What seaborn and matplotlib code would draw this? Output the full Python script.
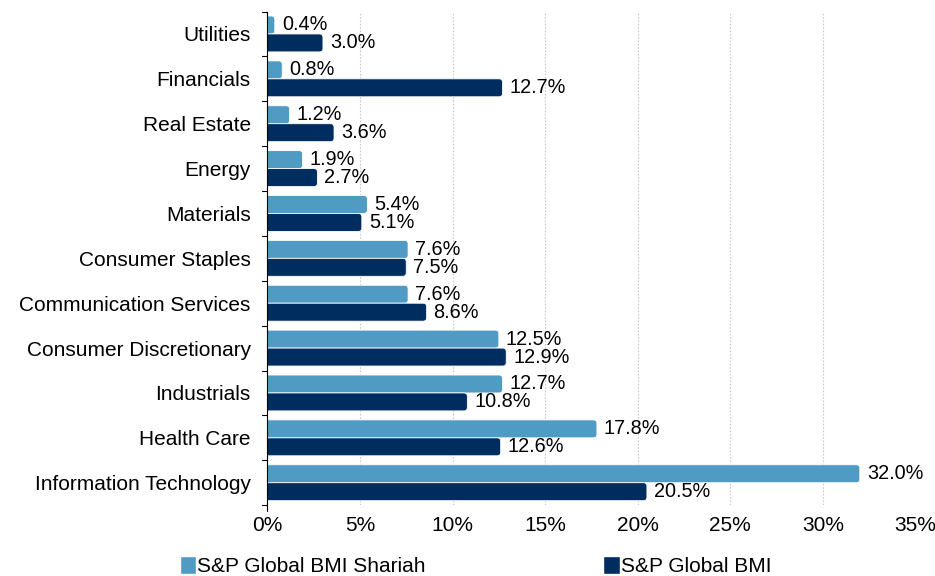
import pandas as pd
import numpy as np
import matplotlib.pyplot as plt
import seaborn as sns
from matplotlib.patches import Patch, FancyBboxPatch
from matplotlib.ticker import FuncFormatter

# === Data ===
sectors = ["Utilities", "Financials", "Real Estate", "Energy", "Materials",
           "Consumer Staples", "Communication Services", "Consumer Discretionary",
           "Industrials", "Health Care", "Information Technology"]
shariah = [0.4, 0.8, 1.2, 1.9, 5.4, 7.6, 7.6, 12.5, 12.7, 17.8, 32.0]
bmi = [3.0, 12.7, 3.6, 2.7, 5.1, 7.5, 8.6, 12.9, 10.8, 12.6, 20.5]
series_names = ["S&P Global BMI Shariah", "S&P Global BMI"]
colors = ["#4F9BC4", "#002D5F"]

df = pd.DataFrame({
    "Sector": sectors * 2,
    "Weight": shariah + bmi,
    "Index": [series_names[0]] * len(sectors) + [series_names[1]] * len(sectors),
})

# === Style ===
sns.set_style("white")
plt.rcParams["font.family"] = ["Liberation Sans", "DejaVu Sans"]
plt.rcParams["text.color"] = "black"
plt.rcParams["xtick.color"] = "black"
plt.rcParams["ytick.color"] = "black"

fig, ax = plt.subplots(figsize=(9.35, 5.76), dpi=100)
plt.subplots_adjust(left=0.286, right=0.979, top=0.98, bottom=0.123)

sns.barplot(data=df, y="Sector", x="Weight", hue="Index", order=sectors,
            hue_order=series_names, palette=colors, saturation=1, orient="h",
            width=0.8, edgecolor="white", linewidth=0.6, legend=False, ax=ax)

ax.set_xlim(0, 35)
ax.set_ylim(len(sectors) - 0.5, -0.5)

# === Rounded bar ends (left end hidden behind axis) ===
r = 0.19
asp = (3.5 / 45) / r
for p in list(ax.patches):
    x, y = p.get_x(), p.get_y()
    w, h = p.get_width(), p.get_height()
    fb = FancyBboxPatch((x - r, y), w + r, h,
                        boxstyle=f"round,pad=0,rounding_size={r}",
                        mutation_aspect=asp, facecolor=p.get_facecolor(),
                        edgecolor="white", linewidth=0.6, zorder=p.get_zorder())
    p.set_visible(False)
    ax.add_patch(fb)

for cont in ax.containers:
    ax.bar_label(cont, labels=[f"{v:.1f}%" for v in cont.datavalues],
                 padding=5, fontsize=14.3)

ax.set_xticks(np.arange(0, 36, 5))
ax.xaxis.set_major_formatter(FuncFormatter(lambda v, p: f"{v:.0f}%"))
ax.set_xlabel("")
ax.set_ylabel("")
ax.tick_params(axis="y", labelsize=15, length=0, pad=12)
ax.tick_params(axis="x", labelsize=15, length=0, pad=8)
ax.grid(axis="x", color="#C8C8C8", linestyle=(0, (1.5, 1.5)), linewidth=0.8)
ax.set_axisbelow(True)

for s in ["top", "right", "bottom"]:
    ax.spines[s].set_visible(False)
ax.spines["left"].set_color("black")
ax.spines["left"].set_linewidth(0.8)
ax.spines["left"].set_zorder(5)

# category separator ticks on the left spine
for yb in np.arange(-0.5, len(sectors), 1.0):
    ax.plot([-0.3, 0], [yb, yb], color="black", lw=0.8, clip_on=False)
ax.plot([0, 0], [len(sectors) - 0.5, len(sectors) - 0.38], color="black", lw=0.8, clip_on=False)

handles = [Patch(facecolor=c, label=n) for c, n in zip(colors, series_names)]
fig.legend(handles=handles, loc="lower left", bbox_to_anchor=(0.172, -0.033), ncol=2,
           frameon=False, fontsize=15, handlelength=0.8, handleheight=0.9,
           handletextpad=0.05, columnspacing=8.5)

plt.savefig("out.png", dpi=100)
plt.close()
